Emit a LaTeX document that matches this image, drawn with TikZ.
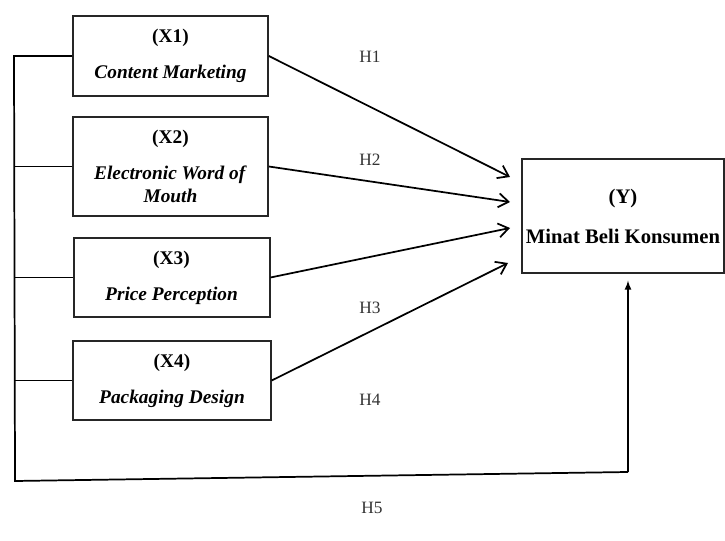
\documentclass[tikz,border=0pt]{standalone}
\usepackage{fontspec}
\setmainfont{Liberation Serif}
\usetikzlibrary{arrows,arrows.meta,positioning}
\newcommand\varbox[2]{\textbf{(#1)}\\[10pt]\textbf{\textit{#2}}}

\begin{document}
\begin{tikzpicture}[x=0.75pt, y=-0.75pt, line width=1.3pt,
  var/.style={draw=black!85, line width=1.5pt, align=center, font=\fontsize{14.5}{17}\selectfont, inner sep=2pt},
  hyp/.style={font=\fontsize{13}{15}\selectfont, text=black!80},
  path/.style={-{Straight Barb[length=7.5pt,width=10.5pt,line width=1.3pt]}}]
\useasboundingbox (0,0) rectangle (725,541);
\node[var, minimum width=146pt, minimum height=60pt] (x1) at (170.5,56) {\varbox{X1}{Content Marketing}}; %%
\node[var, minimum width=146pt, minimum height=74pt] (x2) at (170.5,166.5) {\textbf{(X2)}\\[10pt]\textbf{\textit{Electronic Word of}}\\\textbf{\textit{Mouth}}}; %%
\node[var, minimum width=147pt, minimum height=59pt] (x3) at (171.5,277.5) {\varbox{X3}{Price Perception}}; %%
\node[var, minimum width=148pt, minimum height=59pt] (x4) at (172,380.5) {\varbox{X4}{Packaging Design}}; %%
\node[var, minimum width=151.5pt, minimum height=85.5pt, font=\fontsize{15.5}{18}\selectfont] (y) at (623,216) {\textbf{(Y)}\\[12pt]\textbf{Minat Beli Konsumen}}; %%
% hypothesis labels
\node[hyp] (h1) at (370,57) {H1}; %%
\node[hyp] (h2) at (370,160) {H2}; %%
\node[hyp] (h3) at (370,308) {H3}; %%
\node[hyp] (h4) at (370,400) {H4}; %%
\node[hyp] (h5) at (372,508) {H5}; %%
% arrow ends at Y
\coordinate (t1) at (510,177);
\coordinate (t2) at (510,202);
\coordinate (t3) at (510,228);
\coordinate (t4) at (508,263);
\draw[path] (x1.east) -- (t1); %%
\draw[path] (x2.east) -- (t2); %%
\draw[path] (x3.east) -- (t3); %%
\draw[path] (x4.east) -- (t4); %%
% simultaneous path
\coordinate (b1) at (14,56);
\coordinate (b0) at (15,481);
\coordinate (b5) at (628,472);
\draw (x1.west) -- (b1) -- (b0) -- (b5); %%
\draw (x2.west) -- (x2.west -| b1); %%
\draw (x3.west) -- (x3.west -| b1); %%
\draw (x4.west) -- (x4.west -| b1); %%
\draw[-latex, shorten >=5pt] (b5) -- (b5 |- y.south); %%
\end{tikzpicture}
\end{document}
